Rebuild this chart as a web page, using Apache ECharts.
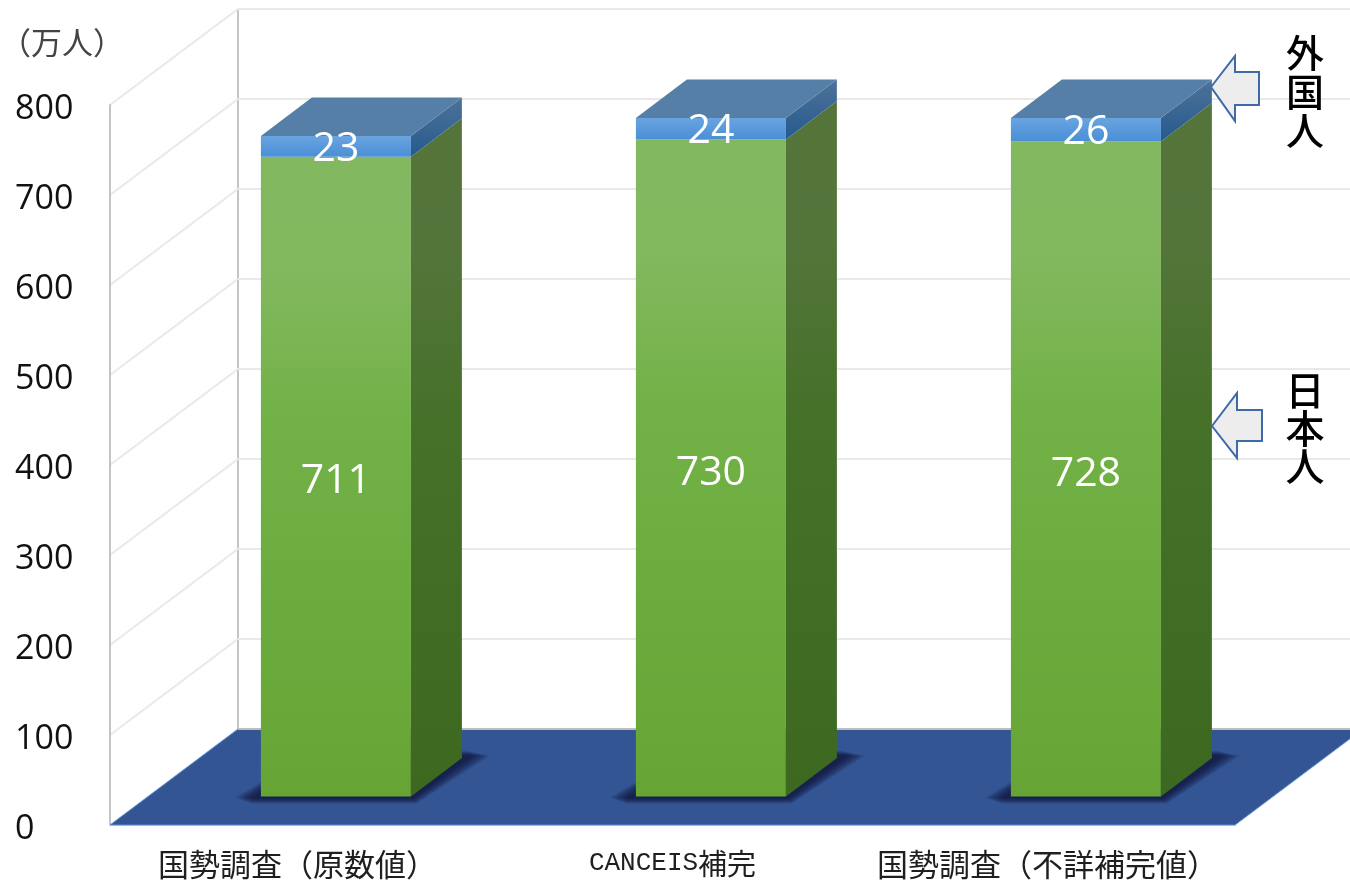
<!DOCTYPE html>
<html>
<head>
<meta charset="utf-8">
<style>html,body{margin:0;padding:0;background:#fff}#c{width:1350px;height:881px}</style>
<script src="https://cdn.jsdelivr.net/npm/echarts@6/dist/echarts.min.js"></script>
</head>
<body>
<div id="c"></div>
<script>
const categories = ['国勢調査（原数値）', 'CANCEIS補完', '国勢調査（不詳補完値）'];
const japanese = [711, 730, 728];
const foreign = [23, 24, 26];
const yTicks = [0, 100, 200, 300, 400, 500, 600, 700, 800];
const unitLabel = '（万人）';
const foreignLabel = '外\n国\n人';
const japaneseLabel = '日\n本\n人';

const WALL_DX = 128, WALL_DY = 96;
const BASE_DX = 38.4, BASE_DY = 28.4;
const BAR_W = 150, BAR_DX = 51, BAR_DY = 38.5;
const FONT = '"Open Sans","Noto Sans CJK JP",sans-serif';
const CJK = '"Noto Sans CJK JP",sans-serif';
const grad = (stops) => new echarts.graphic.LinearGradient(0, 0, 0, 1, stops.map(s => ({offset: s[0], color: s[1]})));
const poly = (points, style) => ({type: 'polygon', shape: {points}, style});
const line = (points, stroke, w) => ({type: 'polyline', shape: {points}, style: {fill: null, stroke, lineWidth: w}});

function barFront(api, i, v) {
  const p = api.coord([i, v]);
  return {l: p[0] + BASE_DX - BAR_W / 2, r: p[0] + BASE_DX + BAR_W / 2, y: p[1] - BASE_DY};
}

const chart = echarts.init(document.getElementById('c'), null, {renderer: 'canvas'});
chart.setOption({
  animation: false,
  backgroundColor: '#ffffff',
  grid: {left: 110, right: 115, top: 105, bottom: 56, containLabel: false},
  xAxis: {
    type: 'category', data: categories,
    axisLine: {show: true, lineStyle: {color: '#d6dbe6', width: 2}},
    axisTick: {show: false}, splitLine: {show: false},
    axisLabel: {
      margin: 24, interval: 0, color: '#1f1f1f', fontSize: 31, fontFamily: CJK,
      formatter: v => v.startsWith('CANCEIS') ? '{m|CANCEIS}{j|補完}' : v,
      rich: {
        m: {fontFamily: '"Liberation Mono",monospace', fontSize: 26, color: '#1f1f1f'},
        j: {fontFamily: CJK, fontSize: 29, color: '#1f1f1f'}
      }
    }
  },
  yAxis: {
    type: 'value', min: 0, max: 800, interval: 100,
    axisLine: {show: true, lineStyle: {color: '#c4c4c4', width: 2}},
    axisTick: {show: false}, splitLine: {show: false},
    axisLabel: {
      align: 'left', margin: 95, color: '#111', fontSize: 34, fontFamily: FONT,
      formatter: '{a|{value}}',
      rich: {a: {color: '#111', fontSize: 34, fontFamily: FONT, padding: [8, 0, 0, 0]}}
    }
  },
  series: [
    {
      name: 'floor', type: 'custom', z: 1, silent: true, clip: false,
      data: [[0]],
      renderItem(params, api) {
        const s = params.coordSys, b = s.y + s.height, l = s.x, r = s.x + s.width;
        return {type: 'group', children: [
          poly([[l, b], [r, b], [r + WALL_DX, b - WALL_DY], [l + WALL_DX, b - WALL_DY]],
               {fill: '#335593', stroke: '#5f8fd6', lineWidth: 1}),
          line([[l + WALL_DX, b - WALL_DY], [1350, b - WALL_DY]], '#bdbdbd', 2)
        ]};
      }
    },
    {
      name: 'wall', type: 'custom', z: 0, silent: true, clip: false,
      data: yTicks.map(t => [0, t]),
      renderItem(params, api) {
        const s = params.coordSys, y = api.coord([0, api.value(1)])[1], l = s.x;
        const kids = [];
        if (api.value(1) > 0) {
          kids.push(line([[l, y], [l + WALL_DX, y - WALL_DY], [1350, y - WALL_DY]], '#e9e9e9', 2));
        } else {
          kids.push(line([[l + WALL_DX, s.y - WALL_DY], [l + WALL_DX, y - WALL_DY]], '#c4c4c4', 2));
        }
        return {type: 'group', children: kids};
      }
    },
    {
      name: 'shadow', type: 'custom', z: 2, silent: true, clip: false,
      data: categories.map((c, i) => [i, 0]),
      renderItem(params, api) {
        const f = barFront(api, api.value(0), 0);
        const kids = [];
        for (let e = 20; e >= 0; e -= 1) {
          kids.push(poly([
            [f.l - 6 - e, f.y + 1],
            [f.l - 6 - e * 0.2, f.y + 1 + e * 0.3],
            [f.r + 2 + e * 0.2, f.y + 1 + e * 0.3],
            [f.r + BAR_DX + 8 + e, f.y - BAR_DY - 2],
            [f.r + BAR_DX + 6, f.y - BAR_DY - 2 - e * 0.25],
            [f.l + BAR_DX, f.y - BAR_DY - 2 - e * 0.25]
          ], {fill: 'rgba(14,22,48,0.055)'}));
        }
        return {type: 'group', children: kids};
      }
    },
    {
      name: '日本人', type: 'custom', z: 3, clip: false,
      data: japanese.map((v, i) => [i, v]),
      renderItem(params, api) {
        const i = api.value(0), v = api.value(1);
        const t = barFront(api, i, v), o = barFront(api, i, 0);
        return {type: 'group', children: [
          poly([[t.l, t.y], [t.r, t.y], [t.r, o.y], [t.l, o.y]], {fill: grad([[0, '#83b860'], [0.18, '#82b85e'], [0.42, '#71b146'], [1, '#66a535']])}),
          poly([[t.r, t.y], [t.r + BAR_DX, t.y - BAR_DY], [t.r + BAR_DX, o.y - BAR_DY], [t.r, o.y]], {fill: grad([[0, '#55743a'], [0.2, '#53753a'], [0.45, '#467129'], [1, '#3d6820']])}),
          {type: 'text', z2: 10, style: {text: String(v), x: (t.l + t.r) / 2, y: (t.y + o.y) / 2 + 5, align: 'center', verticalAlign: 'middle', fill: '#fff', fontSize: 41, fontFamily: FONT}}
        ]};
      }
    },
    {
      name: '外国人', type: 'custom', z: 4, clip: false,
      data: foreign.map((v, i) => [i, japanese[i], japanese[i] + v, v]),
      renderItem(params, api) {
        const i = api.value(0);
        const b = barFront(api, i, api.value(1)), t = barFront(api, i, api.value(2));
        return {type: 'group', children: [
          poly([[t.l, t.y], [t.r, t.y], [t.r, b.y], [t.l, b.y]], {fill: grad([[0, '#69a4e0'], [1, '#4a8fd6']])}),
          poly([[t.r, t.y], [t.r + BAR_DX, t.y - BAR_DY], [t.r + BAR_DX, b.y - BAR_DY], [t.r, b.y]], {fill: grad([[0, '#4f7299'], [1, '#255a8e']])}),
          poly([[t.l, t.y], [t.r, t.y], [t.r + BAR_DX, t.y - BAR_DY], [t.l + BAR_DX, t.y - BAR_DY]], {fill: '#557fa6'}),
          {type: 'text', z2: 10, style: {text: String(api.value(3)), x: (t.l + t.r) / 2, y: (t.y + b.y) / 2 + 3, align: 'center', verticalAlign: 'middle', fill: '#fff', fontSize: 41, fontFamily: FONT}}
        ]};
      }
    }
  ],
  graphic: [
    {type: 'text', left: 0, top: 27, z: 20, style: {text: unitLabel, fill: '#444', fontSize: 31, fontFamily: CJK}},
    {type: 'polygon', z: 20, shape: {points: [[1211, 87], [1235, 56], [1235, 72], [1259, 72], [1259, 105], [1235, 105], [1235, 121]]},
      style: {fill: '#ededed', stroke: '#3f6aa8', lineWidth: 2}},
    {type: 'polygon', z: 20, shape: {points: [[1212, 426], [1237, 393], [1237, 410], [1262, 410], [1262, 441], [1237, 441], [1237, 458]]},
      style: {fill: '#ededed', stroke: '#3f6aa8', lineWidth: 2}},
    {type: 'text', x: 1305, y: 92, z: 20, style: {text: foreignLabel, fill: '#000', fontSize: 38, lineHeight: 39, fontWeight: 500, fontFamily: CJK, align: 'center', verticalAlign: 'middle'}},
    {type: 'text', x: 1305, y: 428, z: 20, style: {text: japaneseLabel, fill: '#000', fontSize: 39, lineHeight: 38, fontWeight: 500, fontFamily: CJK, align: 'center', verticalAlign: 'middle'}}
  ]
});
</script>
</body>
</html>
